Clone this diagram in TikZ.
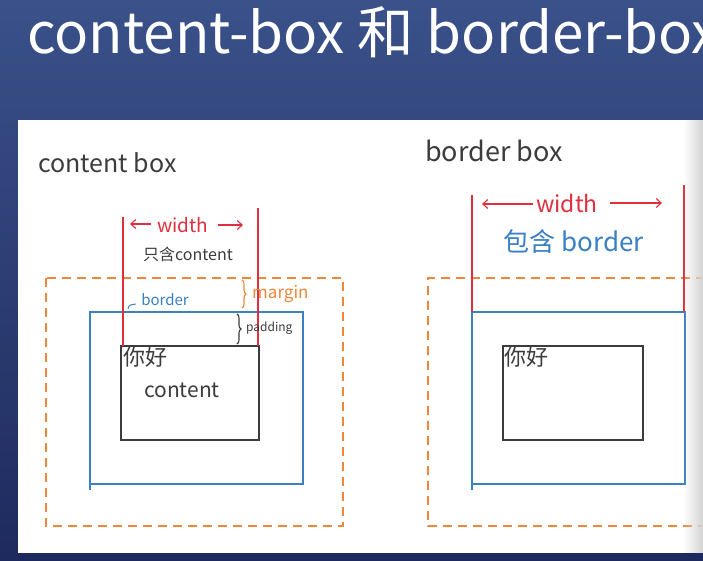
\documentclass[tikz,border=0pt]{standalone}
\usepackage{fontspec}
\setmainfont{Noto Sans CJK SC}
\usetikzlibrary{arrows.meta,decorations.pathreplacing,fadings}

\definecolor{bgtop}{HTML}{3A5189}
\definecolor{bgbot}{HTML}{1E2A5E}
\definecolor{pen red}{HTML}{E0303F}
\definecolor{pen orange}{HTML}{EF873A}
\definecolor{pen blue}{HTML}{3A80C4}
\definecolor{pen dark}{HTML}{3C3C3C}

\tikzset{
  title/.style={text=white, font=\fontsize{56.5}{64}\selectfont, anchor=base west, inner sep=0pt},
  hand/.style={inner sep=0pt, text=pen dark},
  marginline/.style={pen orange, line width=1.3pt, dash pattern=on 9pt off 6pt},
  borderline/.style={pen blue, line width=1.4pt},
  contentline/.style={pen dark, line width=1.4pt},
  widthline/.style={pen red, line width=1.3pt},
  widtharrow/.style={pen red, line width=1.1pt, -{Straight Barb[length=5pt,width=9pt]}},
  bracket/.style={decorate, decoration={brace, amplitude=4pt}, line width=1.1pt},
}

\begin{document}
\begin{tikzpicture}[x=1pt, y=-1pt]
\useasboundingbox (0,0) rectangle (703,560);
\begin{scope}
\clip (0,0) rectangle (703,560);

% slide background and heading
\shade[top color=bgtop, bottom color=bgbot] (0,0) rectangle (703,560);
\node[title] (heading) at (27,53) {content-box 和 border-box};

% paper sheet
\fill[white] (18,120) rectangle (703,553);

% ---------- content box ----------
\node[hand, anchor=base west, font=\fontsize{25}{29}\selectfont] (cbtitle) at (38,172) {content box};

\draw[marginline] (46,278) rectangle (343,526);
\draw[borderline] (90,312) rectangle (303,484);
\draw[borderline] (90,484) -- (90,490);
\draw[contentline] (121,346) rectangle (259,440);

\coordinate (cwl-top) at (123,217);
\coordinate (cwl-bot) at (123,346);
\coordinate (cwr-top) at (258,208);
\coordinate (cwr-bot) at (258,346);
\draw[widthline] (cwl-top) -- (cwl-bot);
\draw[widthline] (cwr-top) -- (cwr-bot);

\node[hand, text=pen red, font=\fontsize{19}{22}\selectfont] (cwidth) at (183,225) {width};
\coordinate (cwa-l) at (130,224);
\coordinate (cwa-r) at (243,225);
\draw[widtharrow] (cwidth.west |- cwa-l) ++(-6,0) -- (cwa-l);
\draw[widtharrow] (cwidth.east |- cwa-r) ++(9,0) -- (cwa-r);

\node[hand, font=\fontsize{16}{20}\selectfont] (only) at (188,254) {只含content};

\coordinate (mb-top) at (242,280);
\coordinate (mb-bot) at (242,308);
\draw[bracket, pen orange] (mb-top) -- (mb-bot);
\node[hand, text=pen orange, font=\fontsize{17}{20}\selectfont, anchor=west] (marginlbl) at (252,294) {margin};

\node[hand, text=pen blue, font=\fontsize{15}{18}\selectfont] (borderlbl) at (165,300) {border};
\draw[pen blue, line width=0.9pt] (128,309) .. controls (129,305) .. (136,304);

\coordinate (pb-top) at (237,314);
\coordinate (pb-bot) at (237,344);
\draw[bracket, pen dark] (pb-top) -- (pb-bot);
\node[hand, font=\fontsize{12}{14}\selectfont, anchor=west] (paddinglbl) at (246,328) {padding};

\node[hand, font=\fontsize{22}{25}\selectfont, anchor=north west] (hello1) at (123,347) {你好};
\node[hand, font=\fontsize{21}{24}\selectfont] (contentlbl) at (182,390) {content};

% ---------- border box ----------
\node[hand, anchor=base west, font=\fontsize{27}{31}\selectfont] (bbtitle) at (425,161) {border box};

\draw[marginline] (720,278) -- (428,278) -- (428,526) -- (720,526);
\draw[borderline] (472,312) rectangle (685,484);
\draw[borderline] (472,484) -- (472,490);
\draw[contentline] (503,346) rectangle (643,440);

\coordinate (bwl-top) at (472,195);
\coordinate (bwl-bot) at (472,312);
\coordinate (bwr-top) at (684,185);
\coordinate (bwr-bot) at (684,312);
\draw[widthline] (bwl-top) -- (bwl-bot);
\draw[widthline] (bwr-top) -- (bwr-bot);

\node[hand, text=pen red, font=\fontsize{23}{26}\selectfont] (bwidth) at (567,203) {width};
\coordinate (bwa-l) at (482,204);
\coordinate (bwa-r) at (662,203);
\draw[widtharrow] (bwidth.west |- bwa-l) ++(-3,0) -- (bwa-l);
\draw[widtharrow] (bwidth.east |- bwa-r) ++(12,0) -- (bwa-r);

\node[hand, text=pen blue, font=\fontsize{26}{30}\selectfont] (withborder) at (574,242) {包含 border};

\node[hand, font=\fontsize{22}{25}\selectfont, anchor=north west] (hello2) at (504,347) {你好};

% page curl shading along the right edge
\fill[black!17, path fading=west] (683,120) rectangle (703,553);
\end{scope}
\end{tikzpicture}
\end{document}
